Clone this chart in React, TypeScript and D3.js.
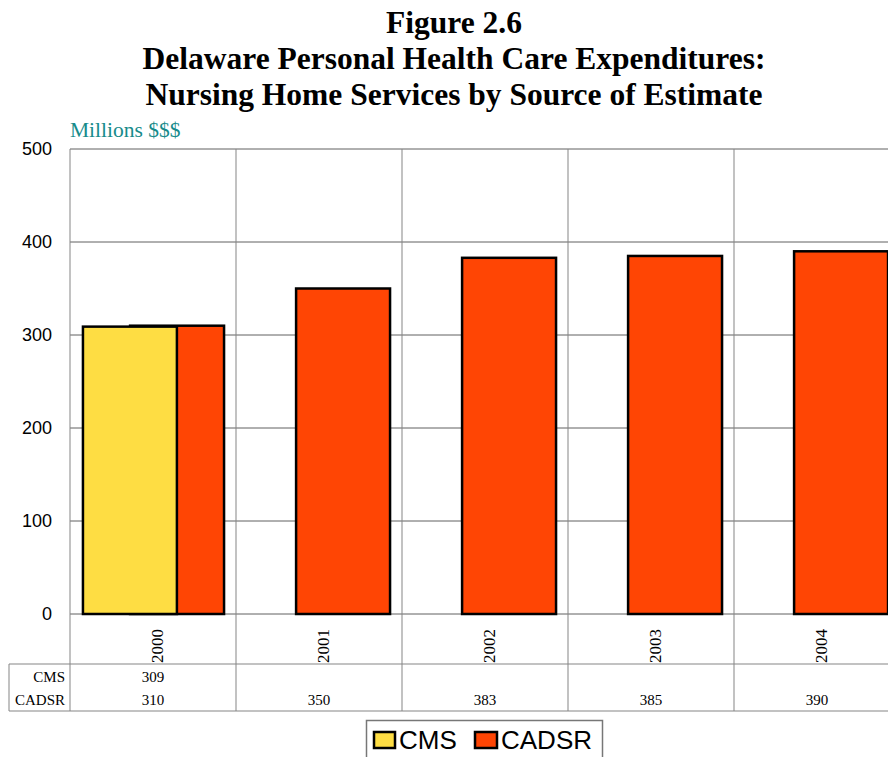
import React from "react";
import * as d3 from "d3";

const years = ["2000", "2001", "2002", "2003", "2004"];
const cmsValues: (number | null)[] = [309, null, null, null, null];
const cadsrValues: (number | null)[] = [310, 350, 383, 385, 390];
const yTicks = [0, 100, 200, 300, 400, 500];
const seriesNames = ["CMS", "CADSR"];
const seriesColors = ["#FEDD43", "#FF4504"];
const titleLines = [
  "Figure 2.6",
  "Delaware Personal Health Care Expenditures:",
  "Nursing Home Services by Source of Estimate",
];

const W = 888;
const H = 757;
const plotL = 70;
const plotT = 149;
const plotB = 614;
const plotR = 900;
const tableMid = 664;
const tableB = 711;

export default function App() {
  const x = d3.scaleBand<string>().domain(years).range([plotL, plotR]).padding(0);
  const y = d3.scaleLinear().domain([0, 500]).range([plotB, plotT]);
  const bw = x.bandwidth();
  const barW = bw * 0.566;
  const cmsOff = bw * 0.078;
  const cadsrOff = bw * 0.362;
  const serif = "'Liberation Serif', 'Times New Roman', serif";
  const sans = "'Liberation Sans', Arial, sans-serif";
  const hGrid = "#606060";
  const vGrid = "#858585";

  return (
    <svg width={W} height={H} style={{ position: "absolute", left: 0, top: 0, background: "#fff" }}>
      <rect x={0} y={0} width={W} height={H} fill="#fff" />
      {titleLines.map((t, i) => (
        <text key={i} x={454} y={33 + i * 36} textAnchor="middle" fontFamily={serif}
          fontWeight="bold" fontSize={31.5} fill="#000">{t}</text>
      ))}
      <text x={70} y={137} fontFamily={serif} fontSize={21.5} fill="#178B8B">Millions $$$</text>

      {/* horizontal gridlines */}
      {yTicks.map((t) => (
        <line key={t} x1={plotL} x2={W} y1={y(t)} y2={y(t)} stroke={hGrid} strokeWidth={1} />
      ))}
      {/* vertical gridlines */}
      {years.map((yr) => (
        <line key={yr} x1={x(yr)!} x2={x(yr)!} y1={plotT} y2={tableB} stroke={vGrid} strokeWidth={1} />
      ))}
      {/* table lines */}
      <line x1={9} x2={W} y1={tableMid} y2={tableMid} stroke={vGrid} strokeWidth={1} />
      <line x1={9} x2={W} y1={tableB} y2={tableB} stroke={vGrid} strokeWidth={1} />
      <line x1={9} x2={9} y1={tableMid} y2={tableB} stroke={vGrid} strokeWidth={1} />

      {/* y tick labels */}
      {yTicks.map((t) => (
        <text key={t} x={52} y={y(t)} dy="0.35em" textAnchor="end" fontFamily={sans}
          fontSize={18} fill="#000">{t}</text>
      ))}

      {/* bars: CADSR behind, CMS in front */}
      {years.map((yr, i) =>
        cadsrValues[i] != null ? (
          <rect key={"c" + yr} x={x(yr)! + cadsrOff} y={y(cadsrValues[i]!)} width={barW}
            height={y(0) - y(cadsrValues[i]!)} fill={seriesColors[1]} stroke="#000" strokeWidth={2.5} />
        ) : null
      )}
      {years.map((yr, i) =>
        cmsValues[i] != null ? (
          <rect key={"m" + yr} x={x(yr)! + cmsOff} y={y(cmsValues[i]!)} width={barW}
            height={y(0) - y(cmsValues[i]!)} fill={seriesColors[0]} stroke="#000" strokeWidth={2.5} />
        ) : null
      )}

      {/* year labels rotated */}
      {years.map((yr) => {
        const cx = x(yr)! + bw / 2 + 4;
        return (
          <text key={"yl" + yr} transform={`translate(${cx},${tableMid - 1}) rotate(-90)`}
            dy="0.35em" fontFamily={serif} fontSize={17} fill="#000">{yr}</text>
        );
      })}

      {/* table row headers */}
      <text x={65} y={682} textAnchor="end" fontFamily={serif} fontSize={15} fill="#000">{seriesNames[0]}</text>
      <text x={65} y={705} textAnchor="end" fontFamily={serif} fontSize={15} fill="#000">{seriesNames[1]}</text>
      {years.map((yr, i) => (
        <g key={"tv" + yr}>
          {cmsValues[i] != null && (
            <text x={x(yr)! + bw / 2} y={682} textAnchor="middle" fontFamily={serif} fontSize={15} fill="#000">
              {cmsValues[i]}
            </text>
          )}
          {cadsrValues[i] != null && (
            <text x={x(yr)! + bw / 2} y={705} textAnchor="middle" fontFamily={serif} fontSize={15} fill="#000">
              {cadsrValues[i]}
            </text>
          )}
        </g>
      ))}

      {/* legend */}
      <rect x={366.5} y={720.5} width={236} height={50} fill="#fff" stroke="#777" strokeWidth={1.5} />
      <rect x={374} y={732} width={21} height={16} fill={seriesColors[0]} stroke="#000" strokeWidth={2.5} />
      <text x={399} y={749} fontFamily={sans} fontSize={26} fill="#000">{seriesNames[0]}</text>
      <rect x={475} y={732} width={22} height={16} fill={seriesColors[1]} stroke="#000" strokeWidth={2.5} />
      <text x={501} y={749} fontFamily={sans} fontSize={26} fill="#000">{seriesNames[1]}</text>
    </svg>
  );
}
